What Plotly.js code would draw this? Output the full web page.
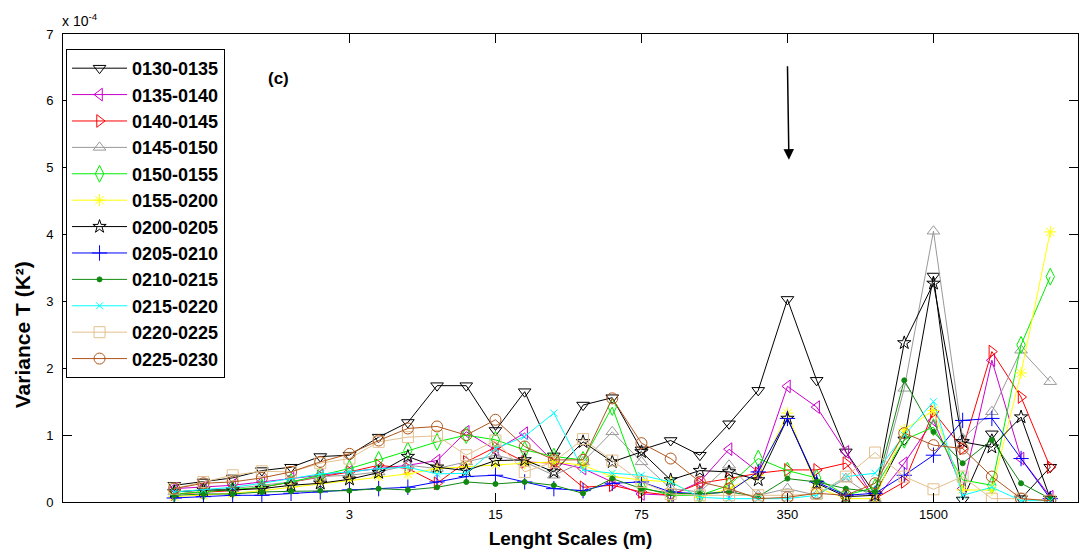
<!DOCTYPE html>
<html>
<head>
<meta charset="utf-8">
<script src="https://cdn.plot.ly/plotly-3.0.1.min.js"></script>
<style>html,body{margin:0;padding:0;background:#fff;}#chart{width:1081px;height:557px;}</style>
</head>
<body>
<div id="chart"></div>
<script>
// x positions: sequence index of length scales
const scaleIndex = [1,2,3,4,5,6,7,8,9,10,11,12,13,14,15,16,17,18,19,20,21,22,23,24,25,26,27,28,29,30,31];
const tickIndex = [7,12,17,22,27];
const tickLabels = ['3','15','75','350','1500'];

const seriesNames = ['0130-0135','0135-0140','0140-0145','0145-0150','0150-0155','0155-0200',
                     '0200-0205','0205-0210','0210-0215','0215-0220','0220-0225','0225-0230'];

// values in units of 1e-4 K^2
const s0130 = [0.25,0.30,0.36,0.47,0.52,0.68,0.70,0.97,1.19,1.74,1.74,1.07,1.65,0.69,1.45,1.56,0.78,0.92,0.70,1.17,1.67,3.03,1.82,0.75,0.12,0.93,3.38,0.03,1.02,0.05,0.52];
const s0135 = [0.20,0.22,0.25,0.30,0.35,0.40,0.45,0.50,0.55,0.62,1.05,0.78,1.03,0.60,0.50,0.30,0.12,0.10,0.30,0.79,0.45,1.73,1.42,0.75,0.03,0.58,1.22,0.20,2.12,0.65,0.08];
const s0140 = [0.12,0.15,0.17,0.22,0.30,0.38,0.45,0.55,0.50,0.28,0.60,0.82,0.60,0.58,0.22,0.25,0.15,0.10,0.28,0.35,0.43,0.48,0.48,0.58,0.05,0.30,1.35,0.80,2.25,1.57,0.52];
const s0145 = [0.15,0.18,0.20,0.25,0.30,0.38,0.40,0.45,0.55,0.50,0.60,0.70,0.60,0.40,0.60,1.05,0.60,0.20,0.15,0.55,0.10,0.20,0.10,0.35,0.05,1.70,4.05,0.95,1.35,2.27,1.80];
const s0150 = [0.12,0.15,0.18,0.22,0.30,0.40,0.50,0.63,0.77,0.90,1.00,0.93,0.78,0.68,0.63,1.42,0.22,0.10,0.10,0.25,0.65,0.47,0.36,0.10,0.22,0.93,1.12,0.33,0.25,2.35,3.37];
const s0155 = [0.08,0.10,0.13,0.17,0.22,0.28,0.33,0.38,0.42,0.50,0.53,0.55,0.58,0.60,0.55,0.38,0.33,0.30,0.07,0.20,0.40,1.33,0.22,0.05,0.05,1.08,1.37,0.18,0.18,1.93,4.04];
const s0200 = [0.15,0.18,0.18,0.20,0.25,0.28,0.34,0.44,0.68,0.52,0.47,0.62,0.63,0.45,0.90,0.60,0.75,0.33,0.47,0.45,0.33,1.25,0.28,0.08,0.10,2.38,3.27,0.90,0.82,1.27,0.05];
const s0205 = [0.06,0.08,0.10,0.10,0.13,0.15,0.18,0.20,0.22,0.30,0.38,0.40,0.30,0.20,0.17,0.28,0.30,0.15,0.12,0.15,0.45,1.25,0.30,0.10,0.13,0.40,0.70,1.22,1.25,0.65,0.05];
const s0210 = [0.10,0.12,0.12,0.15,0.16,0.17,0.17,0.20,0.18,0.22,0.30,0.27,0.30,0.25,0.13,0.35,0.20,0.13,0.12,0.15,0.08,0.35,0.30,0.20,0.15,1.82,1.05,0.58,0.93,0.28,0.05];
const s0215 = [0.15,0.18,0.22,0.28,0.35,0.42,0.45,0.50,0.52,0.42,0.43,0.80,0.98,1.33,0.48,0.43,0.40,0.30,0.07,0.05,0.05,0.05,0.10,0.38,0.43,1.00,1.50,0.10,0.22,0.02,0.02];
const s0220 = [0.20,0.30,0.40,0.46,0.45,0.58,0.65,0.90,0.97,0.99,0.70,0.92,0.45,0.60,0.94,0.62,0.30,0.12,0.10,0.10,0.10,0.10,0.12,0.38,0.74,0.38,0.19,0.38,0.05,0.05,0.02];
const s0225 = [0.20,0.28,0.30,0.36,0.45,0.60,0.72,0.92,1.10,1.13,1.00,1.23,0.83,0.63,0.63,1.55,0.88,0.65,0.30,0.20,0.05,0.07,0.13,0.10,0.28,1.03,0.85,0.80,0.38,0.05,0.02];

const seriesValues = [s0130,s0135,s0140,s0145,s0150,s0155,s0200,s0205,s0210,s0215,s0220,s0225];

const styles = [
  {c:'#000000', s:'triangle-down-open', z:11},
  {c:'#cc00cc', s:'triangle-left-open', z:11},
  {c:'#ff0000', s:'triangle-right-open', z:11},
  {c:'#999999', s:'triangle-up-open', z:11},
  {c:'#00ee00', s:'diamond-tall-open', z:12},
  {c:'#ffff00', s:'asterisk-open', z:10},
  {c:'#000000', s:'star-open', z:10},
  {c:'#0000ff', s:'cross-thin-open', z:11},
  {c:'#118811', s:'circle', z:5},
  {c:'#00ffff', s:'x-thin-open', z:7},
  {c:'#e3c08e', s:'square-open', z:11},
  {c:'#b0561e', s:'circle-open', z:11}
];

const traces = seriesValues.map((vals, k) => ({
  x: scaleIndex,
  y: vals,
  name: seriesNames[k],
  legendgroup: 'g' + k,
  type: 'scatter',
  mode: 'lines+markers',
  line: {color: styles[k].c, width: 1},
  marker: {symbol: styles[k].s, size: styles[k].z, color: styles[k].c,
           line: {color: styles[k].c, width: 1}}
}));

const font = "Liberation Sans, Arial, sans-serif";

const layout = {
  width: 1081, height: 557,
  margin: {l: 63, r: 3, t: 34, b: 55},
  paper_bgcolor: '#ffffff', plot_bgcolor: '#ffffff',
  font: {family: font, color: '#000', size: 13},
  showlegend: true,
  legend: {
    x: 0.003, y: 0.968, xanchor: 'left', yanchor: 'top',
    bgcolor: '#ffffff', bordercolor: '#000000', borderwidth: 1,
    font: {family: font, size: 18, color: '#000', weight: 'bold'},
    traceorder: 'grouped', tracegroupgap: 0, itemwidth: 55
  },
  xaxis: {
    range: [-2.81, 31.95],
    tickmode: 'array', tickvals: tickIndex, ticktext: tickLabels,
    ticks: 'inside', ticklen: 9, tickcolor: '#000', tickwidth: 1,
    showline: true, linecolor: '#000', linewidth: 1, mirror: 'ticks',
    showgrid: false, zeroline: false,
    tickfont: {family: font, size: 13, color: '#000'},
    title: {text: 'Lenght Scales (m)', font: {family: font, size: 19, color: '#000', weight: 'bold'}, standoff: 11}
  },
  yaxis: {
    range: [0, 7], dtick: 1, tick0: 0,
    ticks: 'inside', ticklen: 9, tickcolor: '#000', tickwidth: 1,
    showline: true, linecolor: '#000', linewidth: 1, mirror: 'ticks',
    showgrid: false, zeroline: false,
    tickfont: {family: font, size: 13, color: '#000'},
    ticklabelstandoff: 6
  },
  annotations: [
    {xref: 'paper', yref: 'paper', x: -0.003, y: 1.0, xanchor: 'left', yanchor: 'bottom', yshift: 3,
     text: 'x 10<sup>-4</sup>', showarrow: false, font: {family: font, size: 14, color: '#000'}},
    {xref: 'paper', yref: 'paper', x: 0.2, y: 0.905, xanchor: 'left', yanchor: 'middle',
     text: '<b>(c)</b>', showarrow: false, font: {family: font, size: 17, color: '#000'}},
    {xref: 'paper', yref: 'y', x: -0.04, y: 2.5, xanchor: 'center', yanchor: 'middle', textangle: -90,
     text: '<b>Variance T (K²)</b>', showarrow: false, font: {family: font, size: 21, color: '#000'}},
    {x: 22.05, y: 5.12, xref: 'x', yref: 'y', ax: 22.0, ay: 6.54, axref: 'x', ayref: 'y',
     showarrow: true, arrowhead: 2, arrowsize: 1.4, arrowwidth: 1.5, arrowcolor: '#000', text: ''}
  ]
};

Plotly.newPlot('chart', traces, layout, {staticPlot: true, displayModeBar: false});
</script>
</body>
</html>
